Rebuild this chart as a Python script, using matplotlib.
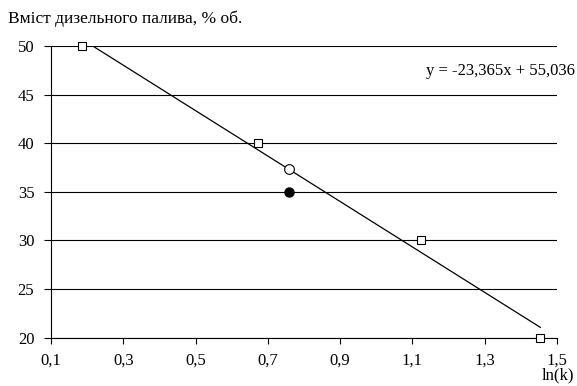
import matplotlib
matplotlib.use("Agg")
import matplotlib.pyplot as plt
import numpy as np

# calibration points (squares)
ln_k = [0.187, 0.672, 1.124, 1.454]
diesel = [50, 40, 30, 20]
# sample point on the trend line (open) and measured value (filled)
sample_x = [0.759]
sample_fit = [37.3]
sample_meas = [35.0]
# trend line coefficients
slope = -23.365
intercept = 55.036
xticks = [0.1, 0.3, 0.5, 0.7, 0.9, 1.1, 1.3, 1.5]
yticks = [20, 25, 30, 35, 40, 45, 50]

plt.rcParams['font.family'] = ['Liberation Serif', 'DejaVu Serif']
plt.rcParams['font.size'] = 12

fig = plt.figure(figsize=(5.77, 3.86), dpi=100)
ax = fig.add_axes([0.0884, 0.1251, 0.8769, 0.7557])

for y in yticks:
    ax.axhline(y, color='black', lw=0.8, zorder=1)

xs = np.array([min(ln_k), max(ln_k)])
ax.plot(xs, slope * xs + intercept, color='black', lw=0.9, zorder=2)

ax.plot(ln_k, diesel, ls='none', marker='s', ms=5.5, mfc='white',
        mec='black', mew=0.8, zorder=3, clip_on=False)
ax.plot(sample_x, sample_fit, ls='none', marker='o', ms=7, mfc='white',
        mec='black', mew=0.8, zorder=3)
ax.plot(sample_x, sample_meas, ls='none', marker='o', ms=6.5, mfc='black',
        mec='black', zorder=3)

ax.set_xlim(0.1, 1.5)
ax.set_ylim(20, 50)
ax.set_xticks(xticks)
ax.set_yticks(yticks)
ax.set_xticklabels([f"{v:.1f}".replace('.', ',') for v in xticks])
ax.set_yticklabels([str(v) for v in yticks])
ax.tick_params(axis='y', direction='out', length=5, width=0.8, color='black', pad=7)
ax.tick_params(axis='x', direction='out', length=4, width=0.8, color='black', pad=7)

for s in ['top', 'right']:
    ax.spines[s].set_visible(False)
for s in ['left', 'bottom']:
    ax.spines[s].set_linewidth(0.8)

fig.text(0.014, 0.941, "Вміст дизельного палива, % об.", ha='left', va='baseline',
         fontsize=12.5)
fig.text(0.995, 0.016, "ln(k)", ha='right', va='baseline')
fig.text(0.997, 0.806, "y = -23,365x + 55,036", ha='right', va='baseline')

fig.savefig("out.png", dpi=100)
